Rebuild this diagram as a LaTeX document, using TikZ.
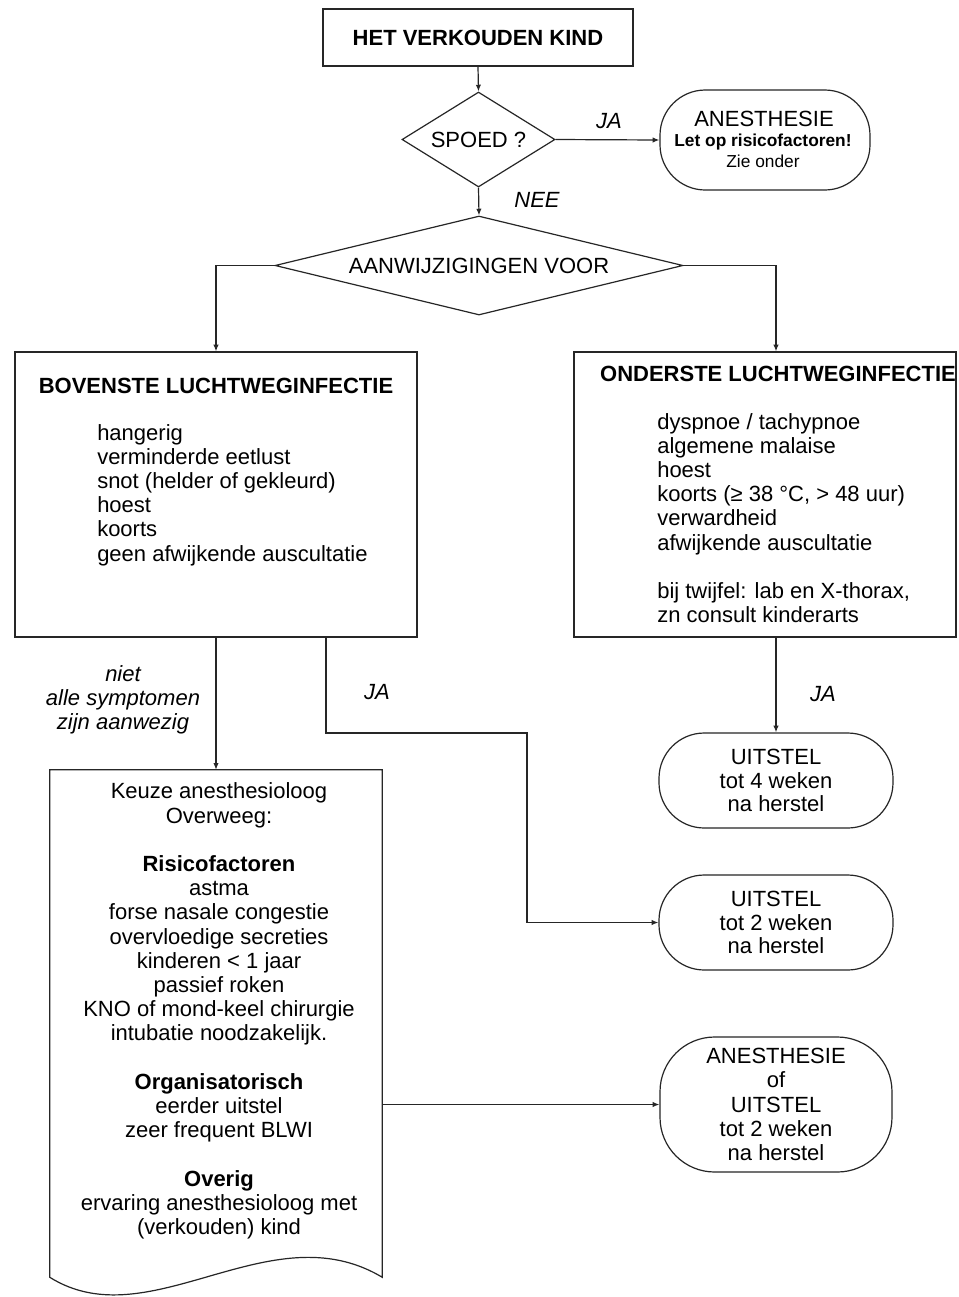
\documentclass[tikz,border=0pt]{standalone}
\usepackage{fontspec}
\setmainfont{Liberation Sans}
\usetikzlibrary{shapes.geometric,arrows.meta,calc}
\newcommand{\mysz}{\fontsize{16.5pt}{18.15pt}\selectfont}
\newcommand{\myszb}{\fontsize{16.5pt}{17.4pt}\selectfont}
\newcommand{\mysmall}{\fontsize{13pt}{14pt}\selectfont}
\begin{document}
\begin{tikzpicture}[x=0.75pt,y=-0.75pt,
  ln/.style={draw=black!85, line width=0.9pt},
  arr/.style={ln, -{Latex[length=5pt,width=4pt]}},
  txt/.style={font=\mysz, inner sep=0pt},
  plainbox/.style={ln, rectangle, inner sep=0pt},
  term/.style={ln, rectangle, rounded corners=34pt, inner sep=0pt, align=center, font=\myszb},
  dia/.style={ln, diamond, inner sep=0pt, font=\mysz},
  lbl/.style={font=\mysz\itshape, inner sep=0pt, align=center},
]
\useasboundingbox (0,0) rectangle (958,1297);
\fill[white] (0,0) rectangle (958,1297);

% nodes
\node[plainbox, minimum width=232.5pt, minimum height=42.75pt, font=\mysz\bfseries] (top) at (478,37.5) {HET VERKOUDEN KIND};
\node[dia, minimum width=114.75pt, minimum height=71.25pt, shape aspect=1.6] (spoed) at (478.5,139.5) {SPOED ?};
\node[term, minimum width=157.5pt, minimum height=75pt] (an) at (765,140) {};
\node[txt] (an1) at (764,119) {ANESTHESIE};
\node[txt, font=\mysmall\bfseries] (an2) at (763,142) {Let op risicofactoren!};
\node[txt, font=\mysmall] (an3) at (763,161) {Zie onder};
\node[dia, minimum width=306pt, minimum height=74.25pt, shape aspect=4.1] (aanw) at (479,265.5) {AANWIJZIGINGEN VOOR};

\node[plainbox, minimum width=301.5pt, minimum height=213.75pt] (lbox) at (216,494.5) {};
\node[txt, font=\mysz\bfseries] (t1) at (216,386) {BOVENSTE LUCHTWEGINFECTIE};
\node[txt, align=left, anchor=west] (l1) at (97,495) {hangerig\\verminderde eetlust\\snot (helder of gekleurd)\\hoest\\koorts\\geen afwijkende auscultatie};

\node[plainbox, minimum width=286.5pt, minimum height=213.75pt] (rbox) at (765,494.5) {};
\node[txt, font=\mysz\bfseries] (t2) at (778,374) {ONDERSTE LUCHTWEGINFECTIE};
\node[txt, align=left, anchor=west] (l2) at (657,518) {dyspnoe / tachypnoe\\algemene malaise\\hoest\\koorts (≥ 38 °C, > 48 uur)\\verwardheid\\afwijkende auscultatie\\[18.15pt]bij twijfel: lab en X-thorax,\\zn consult kinderarts};

\node[term, minimum width=175.5pt, minimum height=71.25pt] (u1) at (776,780.5) {UITSTEL\\tot 4 weken\\na herstel};
\node[term, minimum width=175.5pt, minimum height=71.25pt] (u2) at (776,922.5) {UITSTEL\\tot 2 weken\\na herstel};
\node[term, minimum width=174pt, minimum height=101.25pt, rounded corners=41pt, font=\mysz] (au) at (776,1104.5) {ANESTHESIE\\of\\UITSTEL\\tot 2 weken\\na herstel};

\node[rectangle, inner sep=0pt, minimum width=249pt, minimum height=380.25pt] (doc) at (216,1023.5) {};
\draw[ln] (doc.north west) -- (doc.north east) -- (doc.south east) .. controls (270,1210) and (150,1340) .. (doc.south west) -- cycle;
\node[txt, align=center] (dt) at (219,1011) {Keuze anesthesioloog\\Overweeg:\\[18.15pt]\textbf{Risicofactoren}\\astma\\forse nasale congestie\\overvloedige secreties\\kinderen < 1 jaar\\passief roken\\KNO of mond-keel chirurgie\\intubatie noodzakelijk.\\[18.15pt]\textbf{Organisatorisch}\\eerder uitstel\\zeer frequent BLWI\\[18.15pt]\textbf{Overig}\\ervaring anesthesioloog met\\(verkouden) kind};

% labels
\node[lbl] (ja1) at (609,121) {JA};
\node[lbl] (nee) at (537,200) {NEE};
\node[lbl] (niet) at (123,700) {niet\\alle symptomen\\zijn aanwezig};
\node[lbl] (ja2) at (377,692) {JA};
\node[lbl] (ja3) at (823,694) {JA};

% connectors
\draw[arr] (top.south) -- (spoed.north);
\draw[arr] (spoed.east) -- (an.west);
\draw[arr] (spoed.south) -- (aanw.north);
\draw[arr] (aanw.west) -| (lbox.north);
\draw[arr] (aanw.east) -| (u1.north |- rbox.north);
\draw[arr] (u1.north |- rbox.south) -- (u1.north);
\draw[arr] (lbox.south) -- (doc.north);
\coordinate (c1) at (326,733);
\coordinate (c2) at (527,733);
\draw[arr] (c1 |- lbox.south) -- (c1) -- (c2) |- (u2.west);
\draw[arr] (doc.east |- au.west) -- (au.west);
\end{tikzpicture}
\end{document}
